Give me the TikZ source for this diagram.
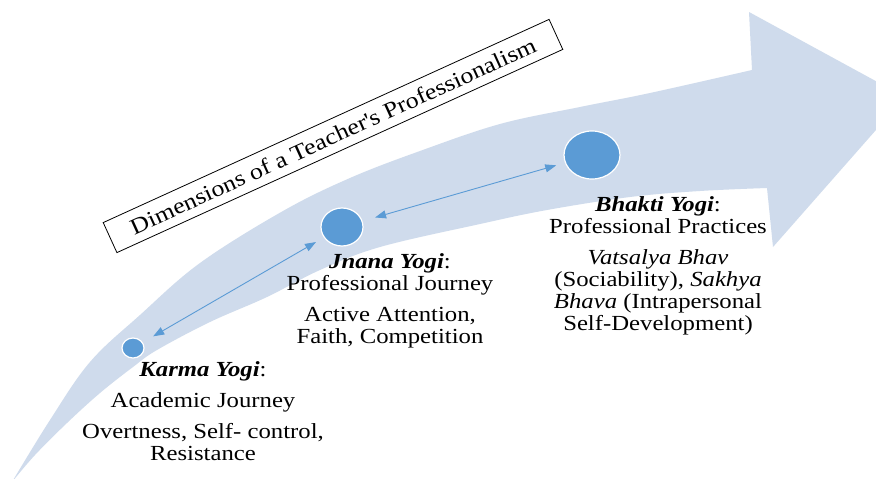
\documentclass[tikz,border=0pt]{standalone}
\usepackage{fontspec}
\setmainfont{Liberation Serif}[FakeStretch=1.15]
\usetikzlibrary{arrows.meta,shapes.geometric}
\definecolor{band}{RGB}{207,219,236}
\definecolor{dot}{RGB}{91,155,213}
\begin{document}
\begin{tikzpicture}[x=1pt,y=-1pt,
  every node/.style={font=\fontsize{21.5}{22}\selectfont},
  dotnode/.style={ellipse, fill=dot, draw=white, line width=1.2pt, inner sep=0pt},
  link/.style={draw=dot, line width=0.9pt, {Triangle[length=11pt,width=8pt]}-{Triangle[length=11pt,width=8pt]}},
  lbl/.style={align=center, anchor=base, inner sep=0pt},
  titlebox/.style={draw=black, fill=white, line width=0.8pt, rotate=24.5, minimum width=490pt, minimum height=33pt, inner sep=0pt, font=\fontsize{22.5}{23}\selectfont}]
\useasboundingbox (0,0) rectangle (876,479);
\fill[white] (0,0) rectangle (876,479);
\begin{scope}
\clip (0,0) rectangle (876,479);
\fill[band] plot[smooth, tension=0.6] coordinates {(12,482) (50,420) (90,362) (140,315) (200,263) (283,211) (350,178) (420,151) (500,124) (580,107) (650,93) (752,70)}
  -- (749,12) -- (905,97) -- (773,247) -- (767,188)
  -- plot[smooth, tension=0.6] coordinates {(767,188) (700,191) (630,197) (547,210) (480,224) (380,247) (320,270) (267,297) (210,322) (157,350) (133,367) (100,393) (67,423) (35,455) (12,482)}
  -- cycle;
\end{scope}
\node[titlebox] (title) at (333,136) {Dimensions of a Teacher\textquotesingle s Professionalism};
\node[dotnode, minimum width=22pt, minimum height=20pt] (karma) at (133,348) {};
\node[dotnode, minimum width=42pt, minimum height=38pt] (jnana) at (342,227) {};
\node[dotnode, minimum width=56pt, minimum height=48pt] (bhakti) at (592,155) {};
\draw[link, shorten <=12pt, shorten >=9pt] (karma) -- (jnana);
\draw[link, shorten <=13pt, shorten >=9pt] (jnana) -- (bhakti);
\node[lbl] (tk) at (203,460) {\textbf{\textit{Karma Yogi}}:\\[9pt] Academic Journey\\[9pt] Overtness, Self- control,\\ Resistance};
\node[lbl] (tj) at (390,343) {\textbf{\textit{Jnana Yogi}}:\\ Professional Journey\\[9pt] Active Attention,\\ Faith, Competition};
\node[lbl] (tb) at (658,330) {\textbf{\textit{Bhakti Yogi}}:\\ Professional Practices\\[9pt] \textit{Vatsalya Bhav}\\ (Sociability), \textit{Sakhya}\\ \textit{Bhava} (Intrapersonal\\ Self-Development)};
\end{tikzpicture}
\end{document}
